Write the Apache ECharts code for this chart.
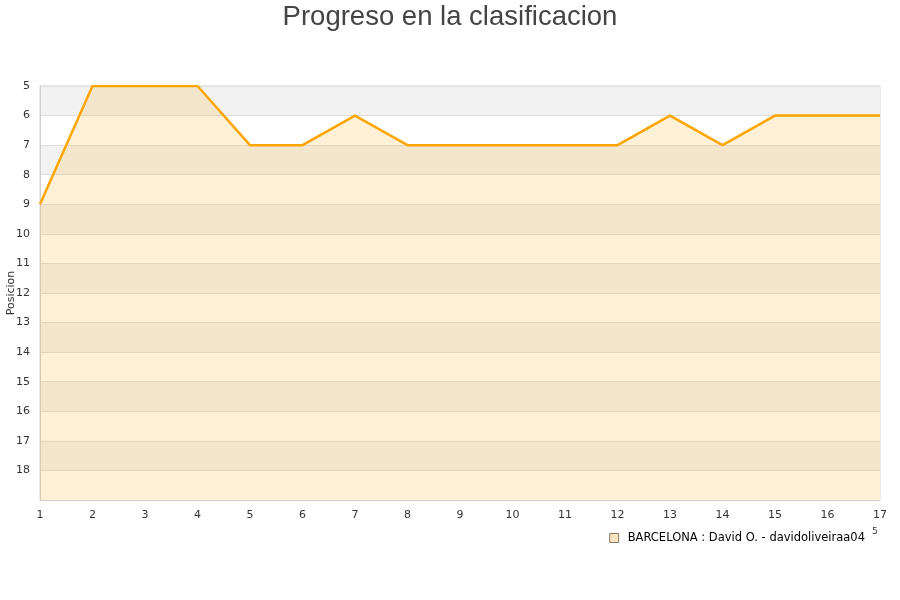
<!DOCTYPE html>
<html><head><meta charset="utf-8">
<script src="https://cdn.jsdelivr.net/npm/echarts@6/dist/echarts.min.js"></script>
<style>html,body{margin:0;padding:0;background:#fff}#c{width:900px;height:600px}</style>
</head><body><div id="c"></div>
<script>
const rounds = ['1','2','3','4','5','6','7','8','9','10','11','12','13','14','15','16','17'];
const positions = [9,5,5,5,7,7,6,7,7,7,7,7,6,7,6,6,6];
const seriesName = 'BARCELONA : David O. - davidoliveiraa04';
const titleText = 'Progreso en la clasificacion';
const yName = 'Posicion';

const chart = echarts.init(document.getElementById('c'), null, {renderer:'canvas'});
chart.setOption({
  animation:false,
  backgroundColor:'#fff',
  title:{text:titleText,left:'center',top:-2,textStyle:{fontFamily:'Liberation Sans, Arial',fontSize:27.5,fontWeight:'normal',color:'#444'}},
  grid:{left:40,right:20,top:86,bottom:100,containLabel:false,outerBoundsMode:'none',show:true,borderColor:'#d9d9d9',borderWidth:1,backgroundColor:'transparent'},
  legend:{right:30,top:527,itemWidth:9,itemHeight:9,icon:'rect',itemGap:9,
    textStyle:{fontFamily:'DejaVu Sans',fontSize:11.5,color:'#000',padding:[0,0,0,4]},
    data:[{name:seriesName,itemStyle:{color:'#f8e4c4',borderColor:'#8a7a60',borderWidth:1}}]},
  xAxis:{type:'category',data:rounds,boundaryGap:false,
    axisLine:{lineStyle:{color:'#d0d0d0'}},axisTick:{show:false},
    axisLabel:{fontFamily:'DejaVu Sans',fontSize:11,color:'#333',margin:10},
    splitLine:{show:false}},
  yAxis:{type:'value',inverse:true,min:5,max:19,interval:1,
    name:yName,nameLocation:'middle',nameGap:23,nameMoveOverlap:false,nameTextStyle:{fontFamily:'DejaVu Sans',fontSize:11,color:'#333'},
    axisLine:{show:true,lineStyle:{color:'#d0d0d0'}},axisTick:{show:false},
    axisLabel:{fontFamily:'DejaVu Sans',fontSize:11,color:'#333',margin:10,formatter:function(v){return v>=19?'':String(v);}},
    splitLine:{show:true,lineStyle:{color:'#dedede'}},
    splitArea:{show:true,areaStyle:{color:['#f2f2f2','#ffffff']}}},
  graphic:[{type:'text',left:872,top:527,style:{text:'5',font:'9px DejaVu Sans',fill:'#333'}}],
  series:[{name:seriesName,type:'line',data:positions,symbol:'none',
    lineStyle:{color:'#ffa500',width:2.5},
    itemStyle:{color:'#ffa500'},
    areaStyle:{color:'rgba(255,165,0,0.22)',origin:'end'}}]
});
</script></body></html>
